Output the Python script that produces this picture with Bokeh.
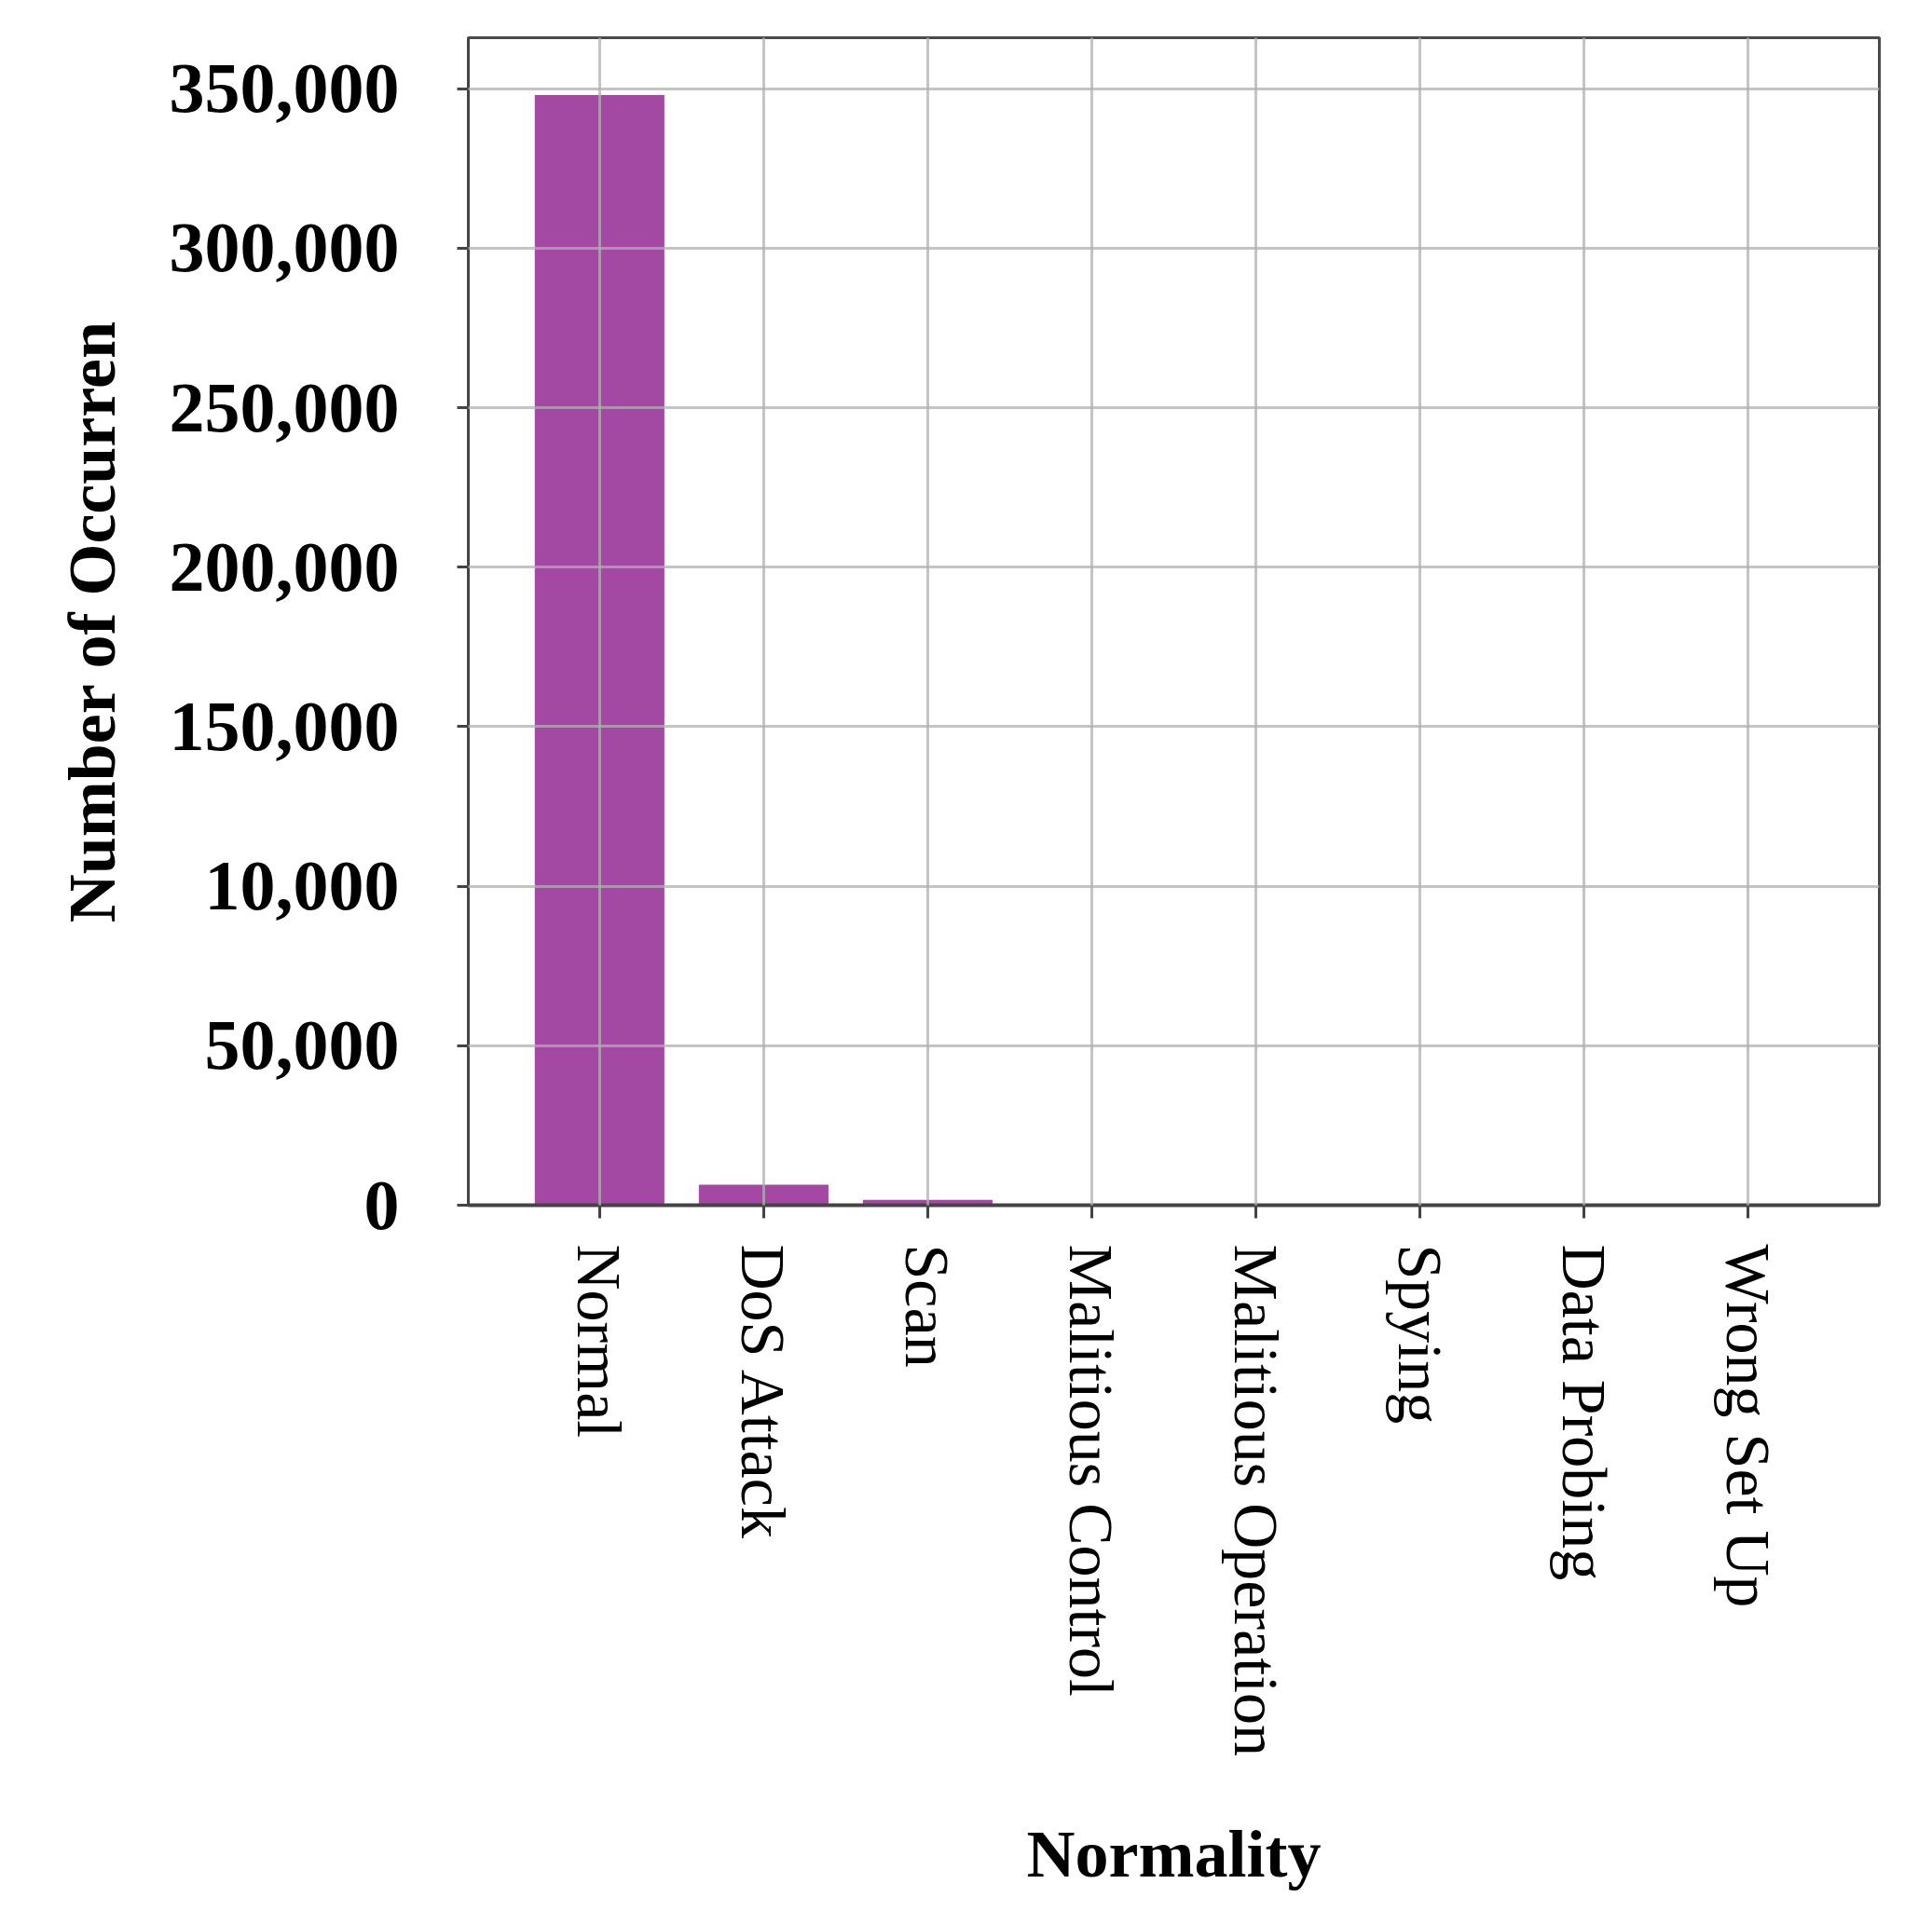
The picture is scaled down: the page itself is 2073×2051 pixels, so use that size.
import math
from bokeh.plotting import figure
from bokeh.models import FactorRange, Range1d, FixedTicker, ColumnDataSource
from bokeh.embed import file_html
from bokeh.resources import INLINE

categories = ["Normal", "DoS Attack", "Scan", "Malitious Control", "Malitious Operation",
              "Spying", "Data Probing", "Wrong Set Up"]
counts = [348000, 6400, 1700, 0, 0, 0, 0, 0]
y_ticks = [0, 50000, 100000, 150000, 200000, 250000, 300000, 350000]
y_tick_labels = ["0", "50,000", "10,000", "150,000", "200,000", "250,000", "300,000", "350,000"]

SERIF = "Liberation Serif"

src = ColumnDataSource(dict(cat=categories, val=counts))

p = figure(
    width=2057, height=2035,
    x_range=FactorRange(*categories, range_padding=0.075),
    y_range=Range1d(0, 366000),
    output_backend="svg", toolbar_location=None,
    min_border_left=502, min_border_right=41, min_border_top=40, min_border_bottom=742,
)
p.background_fill_color = "white"
p.border_fill_color = "white"
p.outline_line_color = "#4a4a4a"
p.outline_line_width = 3

p.vbar(x="cat", top="val", width=0.79, source=src, fill_color="#A349A4", line_color=None)

# grid drawn over bars
for g in (p.xgrid, p.ygrid):
    g.level = "overlay"
    g.grid_line_color = "#b0b0b0"
    g.grid_line_alpha = 0.75
    g.grid_line_width = 3

# y axis
p.yaxis.ticker = FixedTicker(ticks=y_ticks)
p.yaxis.major_label_overrides = {t: l for t, l in zip(y_ticks, y_tick_labels)}
p.yaxis.major_label_text_font = SERIF
p.yaxis.major_label_text_font_style = "bold"
p.yaxis.major_label_text_font_size = "76px"
p.yaxis.major_label_text_color = "black"
p.yaxis.major_label_standoff = 62
p.yaxis.major_tick_out = 12
p.yaxis.major_tick_in = 0
p.yaxis.minor_tick_line_color = None
p.yaxis.major_tick_line_color = "#444444"
p.yaxis.major_tick_line_width = 3
p.yaxis.axis_line_color = "#444444"
p.yaxis.axis_line_width = 3
p.yaxis.axis_label = "Number of Occurren"
p.yaxis.axis_label_text_font = SERIF
p.yaxis.axis_label_text_font_style = "bold"
p.yaxis.axis_label_text_font_size = "72px"
p.yaxis.axis_label_text_color = "black"
p.yaxis.axis_label_standoff = 40

# x axis
p.xaxis.major_label_orientation = -math.pi / 2
p.xaxis.major_label_text_font = SERIF
p.xaxis.major_label_text_font_style = "normal"
p.xaxis.major_label_text_font_size = "68px"
p.xaxis.major_label_text_color = "black"
p.xaxis.major_label_standoff = 28
p.xaxis.major_tick_out = 14
p.xaxis.major_tick_in = 0
p.xaxis.major_tick_line_color = "#444444"
p.xaxis.major_tick_line_width = 3
p.xaxis.axis_line_color = "#444444"
p.xaxis.axis_line_width = 4
p.xaxis.axis_label = "Normality"
p.xaxis.axis_label_text_font = SERIF
p.xaxis.axis_label_text_font_style = "bold"
p.xaxis.axis_label_text_font_size = "72px"
p.xaxis.axis_label_text_color = "black"
p.xaxis.axis_label_standoff = 62

open("out.html", "w").write(file_html(p, INLINE))
